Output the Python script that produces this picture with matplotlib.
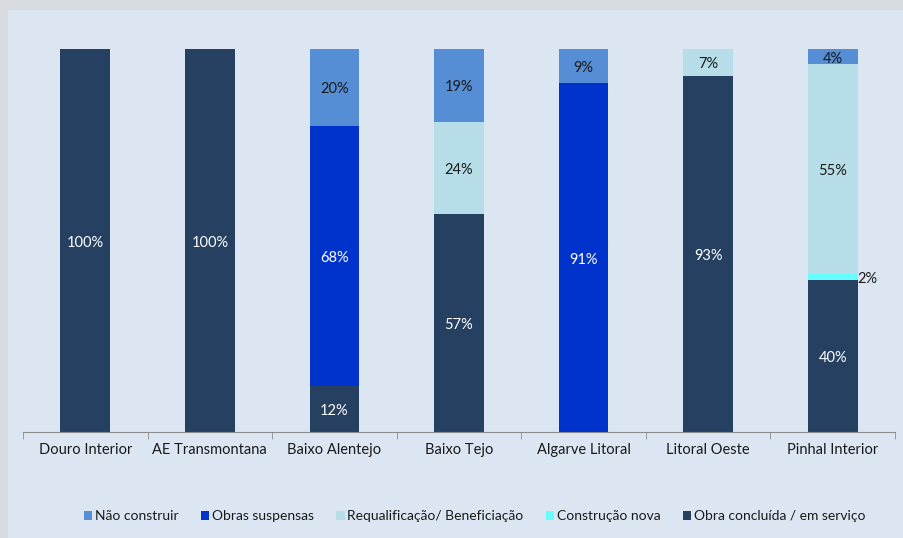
import numpy as np
import matplotlib.pyplot as plt
from matplotlib.patches import Rectangle

plt.rcParams['font.family'] = ['Lato', 'DejaVu Sans']

regions = ["Douro Interior", "AE Transmontana", "Baixo Alentejo", "Baixo Tejo",
           "Algarve Litoral", "Litoral Oeste", "Pinhal Interior"]

# percentages per series (bottom to top)
obra_concluida = [100, 100, 12, 57, 0, 93, 40]
construcao_nova = [0, 0, 0, 0, 0, 0, 2]
requalificacao = [0, 0, 0, 24, 0, 7, 55]
obras_suspensas = [0, 0, 68, 0, 91, 0, 0]
nao_construir = [0, 0, 20, 19, 9, 0, 4]

series = [
    ("Obra concluída / em serviço", obra_concluida, "#254061", "white"),
    ("Construção nova", construcao_nova, "#66ffff", "#1a1a1a"),
    ("Requalificação/ Beneficiação", requalificacao, "#b7dde8", "#1a1a1a"),
    ("Obras suspensas", obras_suspensas, "#0033cc", "white"),
    ("Não construir", nao_construir, "#558ed5", "#1a1a1a"),
]

fig = plt.figure(figsize=(9.04, 5.38), dpi=100)
fig.patch.set_facecolor("#d8dbdf")
fig.patches.append(Rectangle((8 / 904, 0), 1, 1 - 10 / 538, transform=fig.transFigure,
                             facecolor="#dce6f2", edgecolor="none", zorder=-10))

ax = fig.add_axes([23 / 904, 106 / 538, 872 / 904, 383 / 538])
ax.set_facecolor("none")
ax.set_zorder(5)

x = np.arange(len(regions))
totals = np.sum([s[1] for s in series], axis=0)
bottom = np.zeros(len(regions))
handles = []
for name, vals, color, tcolor in series:
    vals = np.array(vals, dtype=float)
    h = vals / totals
    b = ax.bar(x, h, 0.4, bottom=bottom, color=color, edgecolor="none", label=name)
    handles.append(b)
    for i in range(len(regions)):
        if vals[i] > 0:
            yc = bottom[i] + h[i] / 2
            if vals[i] < 3:
                ax.annotate("%d%%" % vals[i], (x[i] + 0.2, yc), xytext=(0, -1.5),
                            textcoords="offset points", ha="left", va="center",
                            fontsize=10.5, color="#1a1a1a")
            else:
                ax.annotate("%d%%" % vals[i], (x[i], yc), xytext=(0, -1.5),
                            textcoords="offset points", ha="center", va="center",
                            fontsize=10.5, color=tcolor)
    bottom = bottom + h

ax.set_xlim(-0.5, len(regions) - 0.5)
ax.set_ylim(0, 1)
ax.set_yticks([])
for s in ["top", "right", "left"]:
    ax.spines[s].set_visible(False)
ax.spines["bottom"].set_color("#8c8c8c")
ax.set_xticks(x)
ax.set_xticklabels(regions, fontsize=10.5, color="#1a1a1a")
ax.tick_params(axis="x", which="major", length=0, pad=8)
ax.set_xticks(np.arange(-0.5, len(regions)), minor=True)
ax.tick_params(axis="x", which="minor", length=5, color="#8c8c8c", direction="out")

leg_order = [4, 3, 2, 1, 0]
ax.legend([handles[i] for i in leg_order], [series[i][0] for i in leg_order],
          loc="center", bbox_to_anchor=(0.518, -0.22), ncol=5, frameon=False,
          fontsize=10, handlelength=0.6, handleheight=0.6, handletextpad=0.2,
          columnspacing=1.6, labelcolor="#1a1a1a")

plt.savefig("out.png", dpi=100, facecolor=fig.get_facecolor())
